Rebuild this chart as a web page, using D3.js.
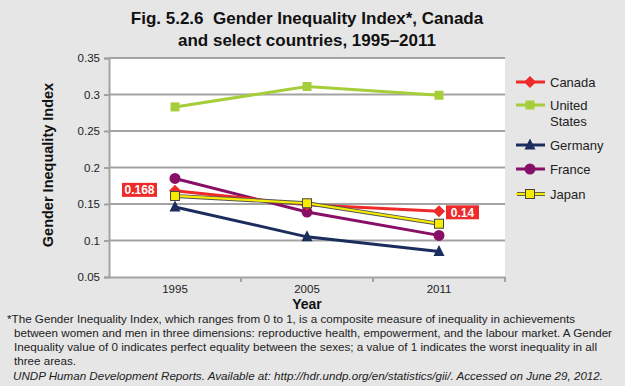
<!DOCTYPE html>
<html><head><meta charset="utf-8">
<script src="https://cdn.jsdelivr.net/npm/d3@7"></script>
<style>
html,body{margin:0;padding:0;background:#e6e6e6;}
svg{display:block;font-family:"Liberation Sans",Arial,sans-serif;}
</style></head>
<body>
<svg id="c" width="625" height="386"></svg>
<script>
const years = ["1995", "2005", "2011"];
const canada = [0.168, 0.149, 0.140];
const unitedStates = [0.283, 0.311, 0.299];
const germany = [0.146, 0.105, 0.085];
const france = [0.185, 0.139, 0.107];
const japan = [0.161, 0.151, 0.123];
const yTicks = [0.05, 0.1, 0.15, 0.2, 0.25, 0.3, 0.35];
const tickLabels = ["0.05", "0.1", "0.15", "0.2", "0.25", "0.3", "0.35"];
const labelCanada = ["0.168", "", "0.14"];

const series = [
  {name: ["Canada"], values: canada, color: "#ee2a2a", marker: "diamond"},
  {name: ["United", "States"], values: unitedStates, color: "#a6cd3a", marker: "square"},
  {name: ["Germany"], values: germany, color: "#1b2d5c", marker: "triangle"},
  {name: ["France"], values: france, color: "#870f66", marker: "circle"},
  {name: ["Japan"], values: japan, color: "#f7ec00", marker: "squareOutline"}
];

const svg = d3.select("#c");
const L = 109, R = 505, T = 58, B = 277;
const x = d3.scaleBand().domain(years).range([L, R]);
const y = d3.scaleLinear().domain([0.05, 0.35]).range([B, T]);

svg.append("rect").attr("x", L).attr("y", T).attr("width", R - L).attr("height", B - T).attr("fill", "#fff");

svg.append("g").selectAll("line").data(yTicks.slice(1)).join("line")
  .attr("x1", L).attr("x2", R).attr("y1", d => y(d)).attr("y2", d => y(d))
  .attr("stroke", "#a3a3a3").attr("stroke-width", 2);

const yAxis = d3.axisLeft(y).tickValues(yTicks).tickFormat((d, i) => tickLabels[i]).tickSize(5).tickPadding(4);
const gy = svg.append("g").attr("transform", `translate(${L},0)`).call(yAxis);
gy.select(".domain").attr("stroke", "#a3a3a3").attr("stroke-width", 2);
gy.selectAll(".tick line").attr("stroke", "#a3a3a3").attr("stroke-width", 2);
gy.selectAll("text").attr("font-size", 11.5).attr("fill", "#222").attr("font-family", "Liberation Sans, Arial, sans-serif");

const xAxis = d3.axisBottom(x).tickSize(0).tickPadding(8);
const gx = svg.append("g").attr("transform", `translate(0,${B})`).call(xAxis);
gx.select(".domain").attr("stroke", "#a3a3a3").attr("stroke-width", 2);
gx.selectAll("text").attr("font-size", 11.5).attr("fill", "#222").attr("font-family", "Liberation Sans, Arial, sans-serif");
svg.append("g").selectAll("line").data(years.slice(1).concat(["end"])).join("line")
  .attr("x1", (d, i) => i < 2 ? x(d) : R).attr("x2", (d, i) => i < 2 ? x(d) : R)
  .attr("y1", B).attr("y2", B + 5).attr("stroke", "#a3a3a3").attr("stroke-width", 2);

const cx = d => x(d) + x.bandwidth() / 2;
const line = d3.line().x((d, i) => cx(years[i])).y(d => y(d));

function drawMarker(g, type, color, px, py) {
  if (type === "diamond") {
    g.append("path").attr("d", `M${px},${py - 6}L${px + 6},${py}L${px},${py + 6}L${px - 6},${py}Z`).attr("fill", color);
  } else if (type === "square") {
    g.append("rect").attr("x", px - 4.5).attr("y", py - 4.5).attr("width", 9).attr("height", 9).attr("fill", color);
  } else if (type === "triangle") {
    g.append("path").attr("d", `M${px},${py - 6.5}L${px + 5.5},${py + 4.5}L${px - 5.5},${py + 4.5}Z`).attr("fill", color);
  } else if (type === "circle") {
    g.append("circle").attr("cx", px).attr("cy", py).attr("r", 5.5).attr("fill", color);
  } else if (type === "squareOutline") {
    g.append("rect").attr("x", px - 4.5).attr("y", py - 4.5).attr("width", 9).attr("height", 9).attr("fill", color).attr("stroke", "#444").attr("stroke-width", 1);
  }
}

const order = [1, 2, 3, 0, 4];
order.forEach(k => {
  const s = series[k];
  const g = svg.append("g");
  if (s.marker === "squareOutline") {
    g.append("path").attr("d", line(s.values)).attr("fill", "none").attr("stroke", "#555").attr("stroke-width", 4);
  }
  g.append("path").attr("d", line(s.values)).attr("fill", "none").attr("stroke", s.color).attr("stroke-width", s.marker === "squareOutline" ? 2.2 : 3);
  s.values.forEach((v, i) => drawMarker(g, s.marker, s.color, cx(years[i]), y(v)));
});

const lab = svg.append("g");
labelCanada.forEach((t, i) => {
  if (!t) return;
  const px = cx(years[i]), py = y(canada[i]);
  const w = i === 0 ? 35 : 33;
  const bx = i === 0 ? px - 53 : px + 7;
  const by = i === 0 ? py - 8 : py - 6;
  lab.append("rect").attr("x", bx).attr("y", by).attr("width", w).attr("height", 14).attr("fill", "#ee2a2a");
  lab.append("text").attr("x", bx + w / 2).attr("y", by + 11.5).attr("text-anchor", "middle")
    .attr("font-size", 12).attr("font-weight", "bold").attr("fill", "#fff").text(t);
});

const legY = [82, 105, 145, 169, 194];
series.forEach((s, k) => {
  const g = svg.append("g");
  const ly = legY[k];
  if (s.marker === "squareOutline") {
    g.append("line").attr("x1", 517).attr("x2", 545).attr("y1", ly).attr("y2", ly).attr("stroke", "#555").attr("stroke-width", 4);
  }
  g.append("line").attr("x1", 516).attr("x2", 545).attr("y1", ly).attr("y2", ly).attr("stroke", s.color).attr("stroke-width", s.marker === "squareOutline" ? 2.2 : 3);
  drawMarker(g, s.marker, s.color, 530, ly);
  s.name.forEach((n, j) => {
    g.append("text").attr("x", 550).attr("y", ly + 5 + j * 16).attr("font-size", 13).attr("fill", "#222").text(n);
  });
});

const title = svg.append("text").attr("text-anchor", "middle").attr("font-size", 17).attr("font-weight", "bold").attr("fill", "#111");
title.append("tspan").attr("x", 307).attr("y", 24).attr("xml:space", "preserve").text("Fig. 5.2.6  Gender Inequality Index*, Canada");
title.append("tspan").attr("x", 307).attr("y", 46).text("and select countries, 1995\u20132011");

svg.append("text").attr("transform", `translate(53,165) rotate(-90)`).attr("text-anchor", "middle")
  .attr("font-size", 14.5).attr("font-weight", "bold").attr("fill", "#111").text("Gender Inequality Index");

svg.append("text").attr("x", 307).attr("y", 309).attr("text-anchor", "middle")
  .attr("font-size", 14).attr("font-weight", "bold").attr("fill", "#111").text("Year");

const notes = [
  ["*The Gender Inequality Index, which ranges from 0 to 1, is a composite measure of inequality in achievements", 7, 323, 568],
  ["between women and men in three dimensions: reproductive health, empowerment, and the labour market. A Gender", 14, 337, 598],
  ["Inequality value of 0 indicates perfect equality between the sexes; a value of 1 indicates the worst inequality in all", 14, 351, 583],
  ["three areas.", 14, 365, 62]
];
notes.forEach(n => svg.append("text").attr("x", n[1]).attr("y", n[2]).attr("font-size", 11.5)
  .attr("textLength", n[3]).attr("lengthAdjust", "spacingAndGlyphs").attr("fill", "#222").text(n[0]));
svg.append("text").attr("x", 13).attr("y", 380).attr("font-size", 11.5).attr("font-style", "italic").attr("fill", "#222")
  .attr("textLength", 590).attr("lengthAdjust", "spacingAndGlyphs")
  .text("UNDP Human Development Reports. Available at: http://hdr.undp.org/en/statistics/gii/. Accessed on June 29, 2012.");
</script>
</body></html>
